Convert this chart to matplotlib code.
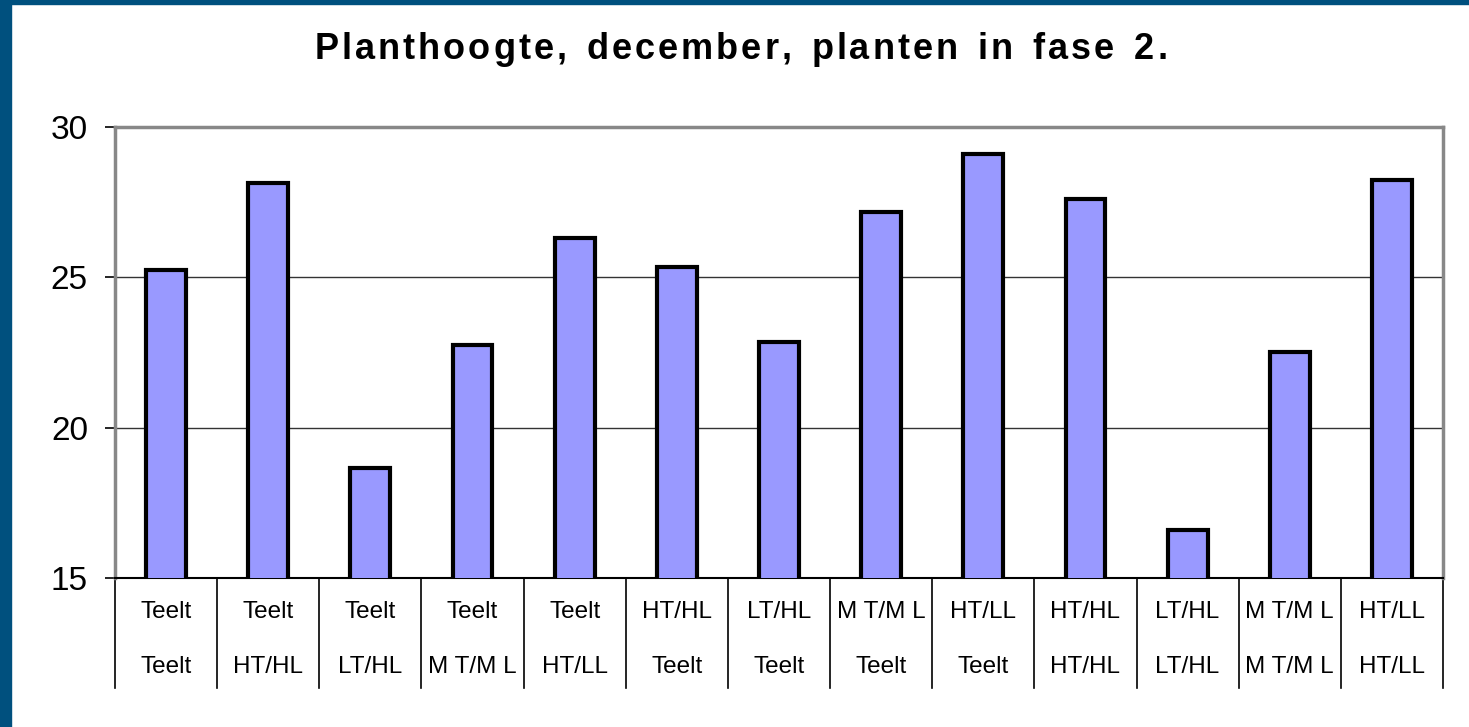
import matplotlib.pyplot as plt
from matplotlib.patches import Rectangle
from matplotlib.transforms import blended_transform_factory

# Data
regel1 = ['Teelt', 'Teelt', 'Teelt', 'Teelt', 'Teelt', 'HT/HL', 'LT/HL',
          'M T/M L', 'HT/LL', 'HT/HL', 'LT/HL', 'M T/M L', 'HT/LL']
regel2 = ['Teelt', 'HT/HL', 'LT/HL', 'M T/M L', 'HT/LL', 'Teelt', 'Teelt',
          'Teelt', 'Teelt', 'HT/HL', 'LT/HL', 'M T/M L', 'HT/LL']
hoogte = [25.24, 28.14, 18.66, 22.75, 26.31, 25.34, 22.85,
          27.17, 29.10, 27.61, 16.60, 22.52, 28.24]
y_ticks = [15, 20, 25, 30]
titel = 'Planthoogte, december, planten in fase 2.'

plt.rcParams['font.family'] = ['Liberation Sans', 'DejaVu Sans']

W, H = 1469, 727
fig = plt.figure(figsize=(W / 100, H / 100), dpi=100)
fig.patches.append(Rectangle((0, 0), 11 / W, 1, transform=fig.transFigure,
                             color='#00507e', zorder=10))
fig.patches.append(Rectangle((0, 1 - 4 / H), 1, 4 / H, transform=fig.transFigure,
                             color='#00507e', zorder=10))

ax = fig.add_axes([115 / W, 149 / H, 1328 / W, 451 / H])
x = list(range(len(hoogte)))
ax.bar(x, hoogte, width=0.39, color='#9999ff', edgecolor='black', linewidth=3, zorder=3)

ax.set_xlim(-0.5, len(hoogte) - 0.5)
ax.set_ylim(15, 30)
ax.set_yticks(y_ticks)
ax.tick_params(axis='y', labelsize=24, length=7.5, width=1.2, color='black', pad=12)
ax.set_xticks([])
for v in y_ticks[1:3]:
    ax.axhline(v, color='#333333', lw=1, zorder=1)

for s in ['top', 'right', 'left']:
    ax.spines[s].set_color('#888888')
    ax.spines[s].set_linewidth(2.5)
ax.spines['bottom'].set_color('black')
ax.spines['bottom'].set_linewidth(1.5)

trans = blended_transform_factory(ax.transData, ax.transAxes)
for i in range(len(hoogte) + 1):
    ax.plot([i - 0.5, i - 0.5], [0, -110 / 451], transform=trans, color='black',
            lw=1.2, clip_on=False)
for i in x:
    ax.text(i, -34 / 451, regel1[i], transform=trans, ha='center', va='center', fontsize=17.5)
    ax.text(i, -89 / 451, regel2[i], transform=trans, ha='center', va='center', fontsize=17.5)

# title: letter spacing + wide word spacing, placed char by char (pixels)
renderer = fig.canvas.get_renderer()
letter_sp = 3.0
woord_sp = 20
posities = []
xpos = 0.0
for j, c in enumerate(titel):
    if c == ' ':
        xpos += woord_sp
        continue
    t = fig.text(0, 0, c, fontsize=26, fontweight='bold')
    w = t.get_window_extent(renderer).width
    t.remove()
    posities.append((c, xpos))
    xpos += w
    if j + 1 < len(titel) and titel[j + 1] != ' ':
        xpos += letter_sp
start = 741 - xpos / 2
for c, px in posities:
    fig.text((start + px) / W, 1 - 59 / H, c, fontsize=26, fontweight='bold',
             ha='left', va='baseline')

fig.savefig('out.png', dpi=100)
